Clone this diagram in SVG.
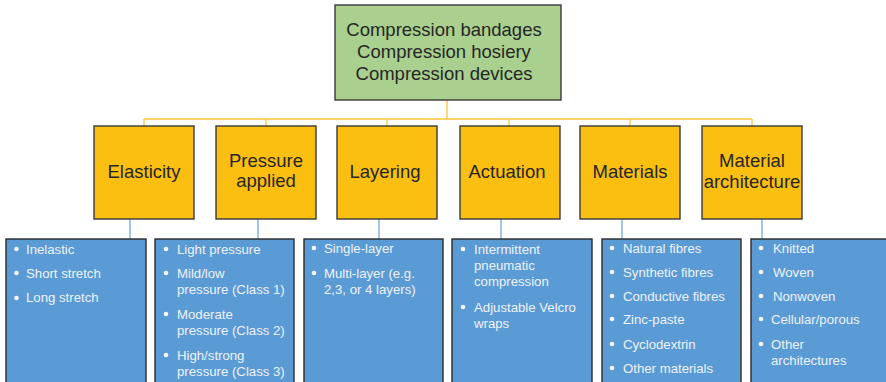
<svg xmlns="http://www.w3.org/2000/svg" width="886" height="382" viewBox="0 0 886 382">
  <style>
    .root { fill: #a9d08e; stroke: #3a3a3a; stroke-width: 1.4; }
    .cat { fill: #fbbf12; stroke: #3a3a3a; stroke-width: 1.4; }
    .list { fill: #5b9bd5; stroke: #2a2a2a; stroke-width: 1.4; }
    .dark { font-family: "Liberation Sans", Arial, sans-serif; font-size: 18.5px; fill: #262626; text-anchor: middle; }
    .item { font-family: "Liberation Sans", Arial, sans-serif; font-size: 13.2px; fill: #eef2f7; }
    .dot { fill: #f4f6fa; }
    .up { fill: none; stroke: #fcc43a; stroke-width: 1.3; }
    .down { fill: none; stroke: #6fa8dc; stroke-width: 1.3; }
  </style>

  <rect width="886" height="382" fill="#ffffff"/>

  <!-- connectors -->
  <g id="connectors">
    <path class="up" d="M447 100 V119 M144 119 H752 M144 119 V126 M266 119 V126 M387 119 V126 M509 119 V126 M630 119 V126 M752 119 V126"/>
    <path class="down" d="M130 219 V239 M258 219 V239 M379 219 V239 M501 219 V239 M622 219 V239 M762 219 V239"/>
  </g>

  <!-- root -->
  <g id="root">
    <rect class="root" x="335" y="5" width="226" height="95"/>
    <text class="dark" x="444" y="36">Compression bandages</text>
    <text class="dark" x="444" y="58">Compression hosiery</text>
    <text class="dark" x="444" y="80">Compression devices</text>
  </g>

  <!-- categories -->
  <g id="elasticity">
    <rect class="cat" x="94" y="126" width="100" height="93"/>
    <text class="dark" x="144" y="178">Elasticity</text>
  </g>
  <g id="pressure">
    <rect class="cat" x="216" y="126" width="100" height="93"/>
    <text class="dark" x="266" y="167">Pressure</text>
    <text class="dark" x="266" y="187">applied</text>
  </g>
  <g id="layering">
    <rect class="cat" x="337" y="126" width="100" height="93"/>
    <text class="dark" x="385" y="178">Layering</text>
  </g>
  <g id="actuation">
    <rect class="cat" x="460" y="126" width="100" height="93"/>
    <text class="dark" x="507" y="178">Actuation</text>
  </g>
  <g id="materials">
    <rect class="cat" x="580" y="126" width="100" height="93"/>
    <text class="dark" x="630" y="178">Materials</text>
  </g>
  <g id="architecture">
    <rect class="cat" x="702" y="126" width="100" height="93"/>
    <text class="dark" x="752" y="167">Material</text>
    <text class="dark" x="752" y="188">architecture</text>
  </g>

  <!-- lists -->
  <g id="elasticity-list">
    <rect class="list" x="6" y="239" width="140" height="150"/>
    <circle class="dot" cx="16.5" cy="249" r="2.3"/>
    <circle class="dot" cx="16.5" cy="273" r="2.3"/>
    <circle class="dot" cx="16.5" cy="298" r="2.3"/>
    <text class="item" x="26" y="254">Inelastic</text>
    <text class="item" x="26" y="278">Short stretch</text>
    <text class="item" x="26" y="302">Long stretch</text>
  </g>
  <g id="pressure-list">
    <rect class="list" x="155" y="239" width="139" height="150"/>
    <circle class="dot" cx="166" cy="249" r="2.3"/>
    <circle class="dot" cx="166" cy="273" r="2.3"/>
    <circle class="dot" cx="166" cy="314" r="2.3"/>
    <circle class="dot" cx="166" cy="355" r="2.3"/>
    <text class="item" x="177" y="254">Light pressure</text>
    <text class="item" x="177" y="278">Mild/low</text>
    <text class="item" x="177" y="294">pressure (Class 1)</text>
    <text class="item" x="177" y="319">Moderate</text>
    <text class="item" x="177" y="335">pressure (Class 2)</text>
    <text class="item" x="177" y="360">High/strong</text>
    <text class="item" x="177" y="376">pressure (Class 3)</text>
  </g>
  <g id="layering-list">
    <rect class="list" x="304" y="239" width="139" height="150"/>
    <circle class="dot" cx="314" cy="248" r="2.3"/>
    <circle class="dot" cx="314" cy="273" r="2.3"/>
    <text class="item" x="324" y="253">Single-layer</text>
    <text class="item" x="324" y="278">Multi-layer (e.g.</text>
    <text class="item" x="324" y="294">2,3, or 4 layers)</text>
  </g>
  <g id="actuation-list">
    <rect class="list" x="452" y="239" width="140" height="150"/>
    <circle class="dot" cx="463" cy="249" r="2.3"/>
    <circle class="dot" cx="463" cy="307" r="2.3"/>
    <text class="item" x="474" y="254">Intermittent</text>
    <text class="item" x="474" y="270">pneumatic</text>
    <text class="item" x="474" y="286">compression</text>
    <text class="item" x="474" y="312">Adjustable Velcro</text>
    <text class="item" x="474" y="328">wraps</text>
  </g>
  <g id="materials-list">
    <rect class="list" x="602" y="239" width="139" height="150"/>
    <circle class="dot" cx="612" cy="248" r="2.3"/>
    <circle class="dot" cx="612" cy="272" r="2.3"/>
    <circle class="dot" cx="612" cy="296" r="2.3"/>
    <circle class="dot" cx="612" cy="319" r="2.3"/>
    <circle class="dot" cx="612" cy="344" r="2.3"/>
    <circle class="dot" cx="612" cy="368" r="2.3"/>
    <text class="item" x="623" y="253">Natural fibres</text>
    <text class="item" x="623" y="277">Synthetic fibres</text>
    <text class="item" x="623" y="301">Conductive fibres</text>
    <text class="item" x="623" y="324">Zinc-paste</text>
    <text class="item" x="623" y="349">Cyclodextrin</text>
    <text class="item" x="623" y="373">Other materials</text>
  </g>
  <g id="architecture-list">
    <rect class="list" x="751" y="239" width="140" height="150"/>
    <circle class="dot" cx="761" cy="248" r="2.3"/>
    <circle class="dot" cx="761" cy="272" r="2.3"/>
    <circle class="dot" cx="761" cy="296" r="2.3"/>
    <circle class="dot" cx="761" cy="319" r="2.3"/>
    <circle class="dot" cx="761" cy="344" r="2.3"/>
    <text class="item" x="773" y="253">Knitted</text>
    <text class="item" x="773" y="277">Woven</text>
    <text class="item" x="773" y="301">Nonwoven</text>
    <text class="item" x="771" y="324">Cellular/porous</text>
    <text class="item" x="771" y="349">Other</text>
    <text class="item" x="771" y="365">architectures</text>
  </g>
</svg>
